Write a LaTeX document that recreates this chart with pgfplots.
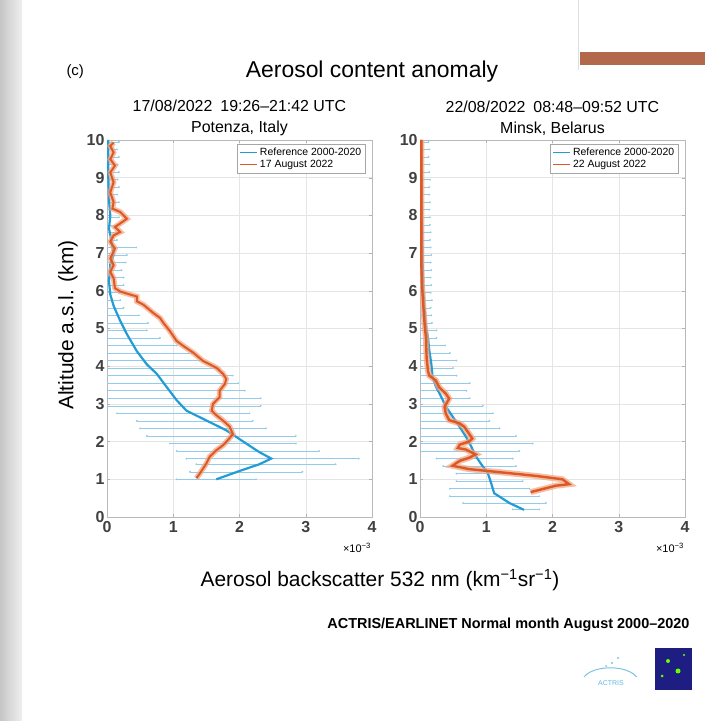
\documentclass[border=0pt]{standalone}
\usepackage{pgfplots}
\pgfplotsset{compat=1.18}
\usepackage{pgfplotstable}
\usepackage{fontspec}
\setmainfont{Liberation Sans}

\definecolor{refblue}{RGB}{35,155,212}
\definecolor{errblue}{RGB}{145,205,234}
\definecolor{augorange}{RGB}{222,88,38}
\definecolor{bandorange}{RGB}{242,165,128}
\definecolor{slidebrown}{RGB}{178,104,74}
\definecolor{logonavy}{RGB}{30,30,130}

% Potenza, reference profile
\pgfplotstableread{
x y
1.65 1.00
2.00 1.22
2.30 1.40
2.48 1.55
2.30 1.72
2.10 1.95
1.80 2.30
1.50 2.56
1.20 2.82
1.05 3.10
0.90 3.45
0.75 3.80
0.60 4.05
0.45 4.40
0.30 4.85
0.20 5.20
0.10 5.60
0.05 5.90
0.03 6.25
0.05 6.70
0.10 6.95
0.07 7.30
0.03 7.65
0.05 8.00
0.03 8.40
0.02 9.00
0.02 10.00
}\potref

% Potenza, 17 August 2022
\pgfplotstableread{
x y
1.35 1.03
1.40 1.15
1.50 1.42
1.55 1.60
1.65 1.77
1.75 1.90
1.82 2.03
1.90 2.20
1.85 2.40
1.75 2.56
1.65 2.70
1.58 2.82
1.60 3.00
1.70 3.18
1.70 3.35
1.78 3.53
1.80 3.66
1.75 3.80
1.65 3.96
1.45 4.14
1.30 4.36
1.15 4.54
1.05 4.67
0.95 4.93
0.85 5.15
0.80 5.28
0.70 5.41
0.55 5.63
0.45 5.72
0.45 5.85
0.35 5.90
0.20 5.98
0.12 6.07
0.10 6.33
0.05 6.50
0.10 6.68
0.05 6.86
0.12 7.12
0.05 7.30
0.10 7.47
0.20 7.56
0.12 7.69
0.30 7.91
0.20 8.09
0.08 8.18
0.10 8.35
0.05 8.61
0.10 8.88
0.05 9.14
0.12 9.32
0.05 9.49
0.10 9.67
0.05 9.84
0.10 9.93
}\potaug

% Potenza, reference spread
\pgfplotstableread{
y lo hi
1.00 1.05 2.25
1.20 1.25 2.95
1.40 1.35 3.45
1.55 1.20 3.80
1.75 1.05 3.20
1.95 0.95 2.85
2.15 0.60 2.85
2.35 0.50 2.40
2.55 0.45 2.20
2.75 0.15 2.15
2.95 0.00 2.32
3.15 0.00 2.32
3.35 0.00 2.08
3.55 0.00 1.98
3.75 0.00 1.90
3.95 0.00 1.70
4.15 0.00 1.40
4.35 0.00 1.30
4.55 0.00 1.05
4.75 0.00 0.80
4.95 0.00 0.60
5.15 0.00 0.62
5.35 0.00 0.48
5.55 0.00 0.25
5.75 0.00 0.20
5.95 0.00 0.18
6.15 0.00 0.25
6.35 0.00 0.25
6.55 0.00 0.22
6.75 0.00 0.28
6.95 0.00 0.30
7.15 0.00 0.44
7.35 0.00 0.15
7.55 0.00 0.15
7.75 0.00 0.15
7.95 0.00 0.18
8.15 0.00 0.15
8.35 0.00 0.18
8.55 0.00 0.15
8.75 0.00 0.18
8.95 0.00 0.16
9.15 0.00 0.18
9.35 0.00 0.16
9.55 0.00 0.18
9.75 0.00 0.15
9.95 0.00 0.18
}\poterr

% Minsk, reference profile
\pgfplotstableread{
x y
1.57 0.19
1.35 0.37
1.20 0.54
1.12 0.63
1.07 0.92
1.02 1.18
0.94 1.36
0.84 1.62
0.77 1.88
0.69 2.14
0.59 2.41
0.49 2.67
0.39 2.93
0.32 3.19
0.24 3.46
0.19 3.72
0.17 4.07
0.14 4.42
0.12 4.77
0.09 5.03
0.07 5.47
0.05 6.00
0.04 6.70
0.03 8.00
0.02 10.00
}\minref

% Minsk, 22 August 2022
\pgfplotstableread{
x y
1.67 0.66
2.05 0.83
2.25 0.87
2.15 1.00
1.75 1.09
1.25 1.18
0.74 1.27
0.49 1.36
0.60 1.49
0.74 1.57
0.84 1.66
0.69 1.79
0.57 1.83
0.60 1.92
0.74 2.00
0.79 2.08
0.72 2.26
0.67 2.39
0.60 2.48
0.44 2.57
0.39 2.74
0.37 2.92
0.44 3.14
0.39 3.27
0.29 3.44
0.24 3.62
0.14 3.75
0.12 3.88
0.10 4.22
0.09 4.75
0.07 5.10
0.05 5.60
0.03 6.15
0.02 6.70
0.02 8.00
0.02 10.00
}\minaug

% Minsk, reference spread
\pgfplotstableread{
y lo hi
0.20 1.40 1.80
0.37 0.65 1.90
0.55 0.45 1.80
0.75 0.45 1.65
0.95 0.55 1.55
1.15 0.55 1.55
1.35 0.35 1.45
1.55 0.25 1.40
1.75 0.00 1.50
1.95 0.00 1.70
2.15 0.00 1.45
2.35 0.00 1.20
2.55 0.00 1.05
2.75 0.00 1.10
2.95 0.00 0.95
3.15 0.00 0.75
3.35 0.00 0.70
3.55 0.00 0.75
3.75 0.00 0.55
3.95 0.00 0.50
4.15 0.00 0.55
4.35 0.00 0.45
4.55 0.00 0.38
4.75 0.00 0.25
4.95 0.00 0.25
5.15 0.00 0.18
5.35 0.00 0.17
5.55 0.00 0.16
5.75 0.00 0.18
5.95 0.00 0.16
6.15 0.00 0.17
6.35 0.00 0.16
6.55 0.00 0.17
6.75 0.00 0.16
6.95 0.00 0.17
7.15 0.00 0.16
7.35 0.00 0.15
7.55 0.00 0.16
7.75 0.00 0.15
7.95 0.00 0.15
8.15 0.00 0.14
8.35 0.00 0.15
8.55 0.00 0.14
8.75 0.00 0.14
8.95 0.00 0.15
9.15 0.00 0.14
9.35 0.00 0.14
9.55 0.00 0.13
9.75 0.00 0.14
9.95 0.00 0.13
}\minerr

\pgfplotsset{
  profile/.style={
    width=265bp, height=377bp, scale only axis,
    xmin=0, xmax=4, ymin=0, ymax=10,
    xtick={0,1,2,3,4}, ytick={0,1,...,10},
    grid=major, grid style={gray!20, line width=0.4pt},
    axis line style={gray!55}, tick style={gray!60}, major tick length=3pt,
    tick label style={font=\fontsize{16}{16}\selectfont\bfseries, text=black!75},
    xticklabel style={yshift=-1pt}, yticklabel style={xshift=1pt},
    /pgf/number format/assume math mode=true,
    title style={font=\fontsize{16}{21}\selectfont, align=center, yshift=-5pt},
    legend style={at={(0.975,0.99)}, anchor=north east, draw=gray!70,
      font=\fontsize{10.5}{11}\selectfont, inner sep=2pt, row sep=-1pt,
      legend image post style={line width=1.5pt}},
    legend cell align=left,
  },
  spread/.style={draw=none, mark=none, forget plot,
    error bars/.cd, x dir=both, x explicit,
    error bar style={errblue, line width=0.5pt},
    error mark=*, error mark options={errblue, mark size=0.7pt}},
}

\begin{document}
\begin{tikzpicture}
\useasboundingbox (0bp,0bp) rectangle (705bp,721bp);
% slide background
\fill[white] (0bp,0bp) rectangle (705bp,721bp);
\shade[left color=gray!45, right color=gray!12] (0bp,0bp) rectangle (22bp,721bp);
\draw[gray!25, line width=1pt] (578bp,721bp) -- (578bp,651bp);
\fill[slidebrown] (580bp,669bp) rectangle (705bp,656bp);

\node[anchor=west, font=\fontsize{15}{15}\selectfont] at (63bp,649bp) {(c)};
\node[font=\fontsize{23}{23}\selectfont] at (372bp,649bp) {Aerosol content anomaly};

\begin{axis}[profile, at={(107bp,204bp)}, anchor=south west,
  title={17/08/2022\enspace 19:26–21:42 UTC\\Potenza, Italy}]
\addplot[spread] table[x expr=(\thisrow{lo}+\thisrow{hi})/2, y=y,
  x error expr=(\thisrow{hi}-\thisrow{lo})/2] {\poterr};
\addplot[refblue, line width=2.2pt] table[x=x, y=y] {\potref};
\addplot[bandorange, line width=5.5pt, opacity=0.7, forget plot] table[x=x, y=y] {\potaug};
\addplot[augorange, line width=2pt] table[x=x, y=y] {\potaug};
\legend{Reference 2000-2020, 17 August 2022}
\end{axis}

\begin{axis}[profile, at={(420bp,204bp)}, anchor=south west,
  title={22/08/2022\enspace 08:48–09:52 UTC\\Minsk, Belarus}]
\addplot[spread] table[x expr=(\thisrow{lo}+\thisrow{hi})/2, y=y,
  x error expr=(\thisrow{hi}-\thisrow{lo})/2] {\minerr};
\addplot[refblue, line width=2.2pt] table[x=x, y=y] {\minref};
\addplot[bandorange, line width=6pt, opacity=0.7, forget plot] table[x=x, y=y] {\minaug};
\addplot[augorange, line width=2.4pt] table[x=x, y=y] {\minaug};
\legend{Reference 2000-2020, 22 August 2022}
\end{axis}

\node[font=\fontsize{21}{21}\selectfont, rotate=90] at (68bp,396bp) {Altitude a.s.l. (km)};
\node[font=\fontsize{11}{11}\selectfont] at (357bp,173bp) {×10\textsuperscript{−3}};
\node[font=\fontsize{11}{11}\selectfont] at (670bp,173bp) {×10\textsuperscript{−3}};
\node[font=\fontsize{21}{21}\selectfont] at (380bp,141bp) {Aerosol backscatter 532 nm (km\textsuperscript{−1}sr\textsuperscript{−1})};
\node[anchor=east, font=\fontsize{14.5}{15}\selectfont\bfseries] at (693bp,96bp) {ACTRIS/EARLINET Normal month August 2000–2020};

% logos
\draw[refblue!60, line width=1pt] (584bp,44bp) arc[start angle=160, end angle=20, x radius=28bp, y radius=14bp];
\node[refblue!70, font=\fontsize{7}{7}\selectfont] at (611bp,38bp) {ACTRIS};
\fill[refblue!60] (612bp,58bp) circle (1.2bp) (618bp,63bp) circle (1.2bp) (606bp,55bp) circle (1bp);
\fill[logonavy] (655bp,31bp) rectangle (692bp,73bp);
\fill[green!60!yellow] (668bp,60bp) circle (2bp) (678bp,50bp) circle (2.5bp) (662bp,45bp) circle (1.5bp) (684bp,66bp) circle (1.2bp);
\end{tikzpicture}
\end{document}
